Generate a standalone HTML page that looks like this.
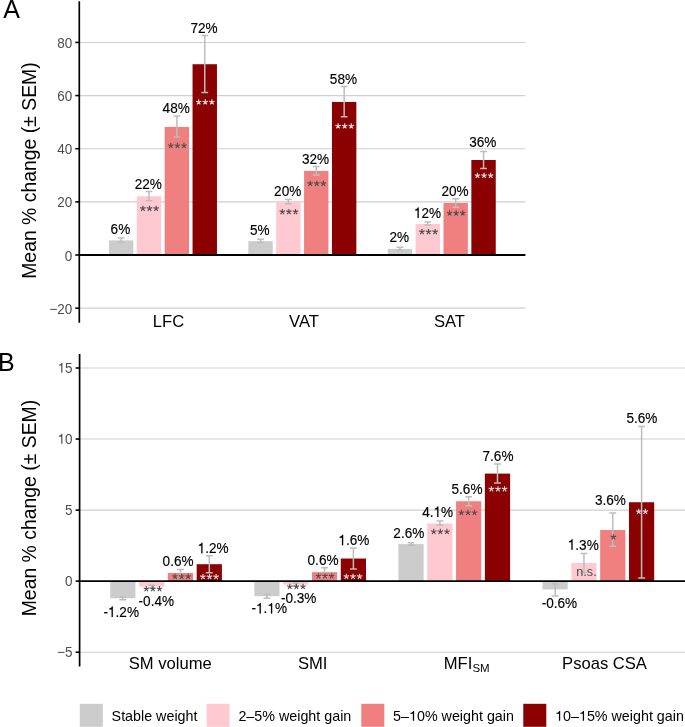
<!DOCTYPE html>
<html><head><meta charset="utf-8"><style>
html,body{margin:0;padding:0;background:#fff;width:685px;height:727px;overflow:hidden}
svg{display:block;will-change:transform}
text{font-family:"Liberation Sans", sans-serif}
.v{font-size:13.6px;fill:#000;stroke:#000;stroke-width:0.15;text-anchor:middle}
.st{font-size:14px;text-anchor:middle}
.tk{font-size:13.5px;fill:#4d4d4d;text-anchor:end}
.xl{font-size:16.6px;fill:#000}
.yt{font-size:19.4px;fill:#000}
.pl{font-size:25px;fill:#000}
.lg{font-size:14.3px;fill:#000}
.one{fill-opacity:0;stroke-opacity:0}
</style></head><body>
<svg width="685" height="727" viewBox="0 0 685 727">
<line x1="79.3" x2="525.4" y1="42.44" y2="42.44" stroke="#cfcfcf" stroke-width="1.1"/>
<line x1="79.3" x2="525.4" y1="95.58" y2="95.58" stroke="#cfcfcf" stroke-width="1.1"/>
<line x1="79.3" x2="525.4" y1="148.72" y2="148.72" stroke="#cfcfcf" stroke-width="1.1"/>
<line x1="79.3" x2="525.4" y1="201.86" y2="201.86" stroke="#cfcfcf" stroke-width="1.1"/>
<line x1="79.3" x2="525.4" y1="308.14" y2="308.14" stroke="#cfcfcf" stroke-width="1.1"/>
<rect x="108.92" y="240.39" width="24.39" height="14.61" fill="#cccccc"/>
<rect x="136.8" y="196.28" width="24.39" height="58.72" fill="#ffc9d1"/>
<rect x="164.68" y="126.93" width="24.39" height="128.07" fill="#f08080"/>
<rect x="192.56" y="64.23" width="24.39" height="190.77" fill="#8b0000"/>
<rect x="248.32" y="241.18" width="24.39" height="13.82" fill="#cccccc"/>
<rect x="276.2" y="201.33" width="24.39" height="53.67" fill="#ffc9d1"/>
<rect x="304.08" y="170.91" width="24.39" height="84.09" fill="#f08080"/>
<rect x="331.96" y="101.96" width="24.39" height="153.04" fill="#8b0000"/>
<rect x="387.72" y="248.89" width="24.39" height="6.11" fill="#cccccc"/>
<rect x="415.6" y="223.91" width="24.39" height="31.09" fill="#ffc9d1"/>
<rect x="443.48" y="202.92" width="24.39" height="52.08" fill="#f08080"/>
<rect x="471.36" y="160.01" width="24.39" height="94.99" fill="#8b0000"/>
<line x1="79.3" x2="525.4" y1="255" y2="255" stroke="#000" stroke-width="1.8"/>
<path d="M121.12 238V241.98M117.72 238H124.52M117.72 241.98H124.52" stroke="#bdbdbd" stroke-width="1.5" fill="none"/>
<path d="M149 191.5V200.8M145.6 191.5H152.4M145.6 200.8H152.4" stroke="#bdbdbd" stroke-width="1.5" fill="none"/>
<path d="M176.88 115.91V137.03M173.48 115.91H180.28M173.48 137.03H180.28" stroke="#bdbdbd" stroke-width="1.5" fill="none"/>
<path d="M204.76 35.53V92.39M201.36 35.53H208.16M201.36 92.39H208.16" stroke="#bdbdbd" stroke-width="1.5" fill="none"/>
<path d="M260.52 239.32V242.51M257.12 239.32H263.92M257.12 242.51H263.92" stroke="#bdbdbd" stroke-width="1.5" fill="none"/>
<path d="M288.4 199.47V203.72M285 199.47H291.8M285 203.72H291.8" stroke="#bdbdbd" stroke-width="1.5" fill="none"/>
<path d="M316.28 166.52V175.1M312.88 166.52H319.68M312.88 175.1H319.68" stroke="#bdbdbd" stroke-width="1.5" fill="none"/>
<path d="M344.16 86.55V116.84M340.76 86.55H347.56M340.76 116.84H347.56" stroke="#bdbdbd" stroke-width="1.5" fill="none"/>
<path d="M399.92 247.29V250.22M396.52 247.29H403.32M396.52 250.22H403.32" stroke="#bdbdbd" stroke-width="1.5" fill="none"/>
<path d="M427.8 221.92V225.11M424.4 221.92H431.2M424.4 225.11H431.2" stroke="#bdbdbd" stroke-width="1.5" fill="none"/>
<path d="M455.68 198.8V207.31M452.28 198.8H459.08M452.28 207.31H459.08" stroke="#bdbdbd" stroke-width="1.5" fill="none"/>
<path d="M483.56 151.51V168.38M480.16 151.51H486.96M480.16 168.38H486.96" stroke="#bdbdbd" stroke-width="1.5" fill="none"/>
<text transform="translate(120.42,233.6) scale(1,1.12)" class="v">6%</text>
<text transform="translate(148.3,188.5) scale(1,1.12)" class="v">22%</text>
<path d="M142.90 208.50L142.90 205.65M142.90 208.50L145.61 207.62M142.90 208.50L144.58 210.81M142.90 208.50L141.22 210.81M142.90 208.50L140.19 207.62" stroke="#505050" stroke-width="1.15" fill="none"/>
<path d="M149.50 208.50L149.50 205.65M149.50 208.50L152.21 207.62M149.50 208.50L151.18 210.81M149.50 208.50L147.82 210.81M149.50 208.50L146.79 207.62" stroke="#505050" stroke-width="1.15" fill="none"/>
<path d="M156.10 208.50L156.10 205.65M156.10 208.50L158.81 207.62M156.10 208.50L157.78 210.81M156.10 208.50L154.42 210.81M156.10 208.50L153.39 207.62" stroke="#505050" stroke-width="1.15" fill="none"/>
<text transform="translate(176.18,113.2) scale(1,1.12)" class="v">48%</text>
<path d="M170.78 145.70L170.78 142.85M170.78 145.70L173.49 144.82M170.78 145.70L172.46 148.01M170.78 145.70L169.10 148.01M170.78 145.70L168.07 144.82" stroke="#505050" stroke-width="1.15" fill="none"/>
<path d="M177.38 145.70L177.38 142.85M177.38 145.70L180.09 144.82M177.38 145.70L179.06 148.01M177.38 145.70L175.70 148.01M177.38 145.70L174.67 144.82" stroke="#505050" stroke-width="1.15" fill="none"/>
<path d="M183.98 145.70L183.98 142.85M183.98 145.70L186.69 144.82M183.98 145.70L185.66 148.01M183.98 145.70L182.30 148.01M183.98 145.70L181.27 144.82" stroke="#505050" stroke-width="1.15" fill="none"/>
<text transform="translate(204.06,32.8) scale(1,1.12)" class="v">72%</text>
<path d="M198.66 102.10L198.66 99.25M198.66 102.10L201.37 101.22M198.66 102.10L200.34 104.41M198.66 102.10L196.98 104.41M198.66 102.10L195.95 101.22" stroke="#dadada" stroke-width="1.15" fill="none"/>
<path d="M205.26 102.10L205.26 99.25M205.26 102.10L207.97 101.22M205.26 102.10L206.94 104.41M205.26 102.10L203.58 104.41M205.26 102.10L202.55 101.22" stroke="#dadada" stroke-width="1.15" fill="none"/>
<path d="M211.86 102.10L211.86 99.25M211.86 102.10L214.57 101.22M211.86 102.10L213.54 104.41M211.86 102.10L210.18 104.41M211.86 102.10L209.15 101.22" stroke="#dadada" stroke-width="1.15" fill="none"/>
<text transform="translate(259.82,235) scale(1,1.12)" class="v">5%</text>
<text transform="translate(287.7,196) scale(1,1.12)" class="v">20%</text>
<path d="M282.30 211.80L282.30 208.95M282.30 211.80L285.01 210.92M282.30 211.80L283.98 214.11M282.30 211.80L280.62 214.11M282.30 211.80L279.59 210.92" stroke="#505050" stroke-width="1.15" fill="none"/>
<path d="M288.90 211.80L288.90 208.95M288.90 211.80L291.61 210.92M288.90 211.80L290.58 214.11M288.90 211.80L287.22 214.11M288.90 211.80L286.19 210.92" stroke="#505050" stroke-width="1.15" fill="none"/>
<path d="M295.50 211.80L295.50 208.95M295.50 211.80L298.21 210.92M295.50 211.80L297.18 214.11M295.50 211.80L293.82 214.11M295.50 211.80L292.79 210.92" stroke="#505050" stroke-width="1.15" fill="none"/>
<text transform="translate(315.58,163.7) scale(1,1.12)" class="v">32%</text>
<path d="M310.18 183.50L310.18 180.65M310.18 183.50L312.89 182.62M310.18 183.50L311.86 185.81M310.18 183.50L308.50 185.81M310.18 183.50L307.47 182.62" stroke="#505050" stroke-width="1.15" fill="none"/>
<path d="M316.78 183.50L316.78 180.65M316.78 183.50L319.49 182.62M316.78 183.50L318.46 185.81M316.78 183.50L315.10 185.81M316.78 183.50L314.07 182.62" stroke="#505050" stroke-width="1.15" fill="none"/>
<path d="M323.38 183.50L323.38 180.65M323.38 183.50L326.09 182.62M323.38 183.50L325.06 185.81M323.38 183.50L321.70 185.81M323.38 183.50L320.67 182.62" stroke="#505050" stroke-width="1.15" fill="none"/>
<text transform="translate(343.46,84) scale(1,1.12)" class="v">58%</text>
<path d="M338.06 126.10L338.06 123.25M338.06 126.10L340.77 125.22M338.06 126.10L339.74 128.41M338.06 126.10L336.38 128.41M338.06 126.10L335.35 125.22" stroke="#dadada" stroke-width="1.15" fill="none"/>
<path d="M344.66 126.10L344.66 123.25M344.66 126.10L347.37 125.22M344.66 126.10L346.34 128.41M344.66 126.10L342.98 128.41M344.66 126.10L341.95 125.22" stroke="#dadada" stroke-width="1.15" fill="none"/>
<path d="M351.26 126.10L351.26 123.25M351.26 126.10L353.97 125.22M351.26 126.10L352.94 128.41M351.26 126.10L349.58 128.41M351.26 126.10L348.55 125.22" stroke="#dadada" stroke-width="1.15" fill="none"/>
<text transform="translate(399.22,241.8) scale(1,1.12)" class="v">2%</text>
<text transform="translate(427.5,218) scale(1,1.12)" class="v"><tspan class="one">1</tspan>2%</text>
<path d="M421.95 231.80L421.95 228.95M421.95 231.80L424.66 230.92M421.95 231.80L423.63 234.11M421.95 231.80L420.27 234.11M421.95 231.80L419.24 230.92" stroke="#505050" stroke-width="1.15" fill="none"/>
<path d="M428.55 231.80L428.55 228.95M428.55 231.80L431.26 230.92M428.55 231.80L430.23 234.11M428.55 231.80L426.87 234.11M428.55 231.80L425.84 230.92" stroke="#505050" stroke-width="1.15" fill="none"/>
<path d="M435.15 231.80L435.15 228.95M435.15 231.80L437.86 230.92M435.15 231.80L436.83 234.11M435.15 231.80L433.47 234.11M435.15 231.80L432.44 230.92" stroke="#505050" stroke-width="1.15" fill="none"/>
<text transform="translate(454.98,195.8) scale(1,1.12)" class="v">20%</text>
<path d="M449.58 213.20L449.58 210.35M449.58 213.20L452.29 212.32M449.58 213.20L451.26 215.51M449.58 213.20L447.90 215.51M449.58 213.20L446.87 212.32" stroke="#505050" stroke-width="1.15" fill="none"/>
<path d="M456.18 213.20L456.18 210.35M456.18 213.20L458.89 212.32M456.18 213.20L457.86 215.51M456.18 213.20L454.50 215.51M456.18 213.20L453.47 212.32" stroke="#505050" stroke-width="1.15" fill="none"/>
<path d="M462.78 213.20L462.78 210.35M462.78 213.20L465.49 212.32M462.78 213.20L464.46 215.51M462.78 213.20L461.10 215.51M462.78 213.20L460.07 212.32" stroke="#505050" stroke-width="1.15" fill="none"/>
<text transform="translate(482.86,147) scale(1,1.12)" class="v">36%</text>
<path d="M477.46 175.60L477.46 172.75M477.46 175.60L480.17 174.72M477.46 175.60L479.14 177.91M477.46 175.60L475.78 177.91M477.46 175.60L474.75 174.72" stroke="#dadada" stroke-width="1.15" fill="none"/>
<path d="M484.06 175.60L484.06 172.75M484.06 175.60L486.77 174.72M484.06 175.60L485.74 177.91M484.06 175.60L482.38 177.91M484.06 175.60L481.35 174.72" stroke="#dadada" stroke-width="1.15" fill="none"/>
<path d="M490.66 175.60L490.66 172.75M490.66 175.60L493.37 174.72M490.66 175.60L492.34 177.91M490.66 175.60L488.98 177.91M490.66 175.60L487.95 174.72" stroke="#dadada" stroke-width="1.15" fill="none"/>
<line x1="79.3" x2="79.3" y1="1.3" y2="322.8" stroke="#000" stroke-width="1.7"/>
<line x1="75.3" x2="79.3" y1="42.44" y2="42.44" stroke="#000" stroke-width="1.6"/>
<text transform="translate(72.3,47.94) scale(1,1.08)" class="tk">80</text>
<line x1="75.3" x2="79.3" y1="95.58" y2="95.58" stroke="#000" stroke-width="1.6"/>
<text transform="translate(72.3,101.08) scale(1,1.08)" class="tk">60</text>
<line x1="75.3" x2="79.3" y1="148.72" y2="148.72" stroke="#000" stroke-width="1.6"/>
<text transform="translate(72.3,154.22) scale(1,1.08)" class="tk">40</text>
<line x1="75.3" x2="79.3" y1="201.86" y2="201.86" stroke="#000" stroke-width="1.6"/>
<text transform="translate(72.3,207.36) scale(1,1.08)" class="tk">20</text>
<line x1="75.3" x2="79.3" y1="255" y2="255" stroke="#000" stroke-width="1.6"/>
<text transform="translate(72.3,260.5) scale(1,1.08)" class="tk">0</text>
<line x1="75.3" x2="79.3" y1="308.14" y2="308.14" stroke="#000" stroke-width="1.6"/>
<text transform="translate(72.3,313.64) scale(1,1.08)" class="tk">−20</text>
<text x="168.5" y="326.7" class="xl" text-anchor="middle">LFC</text>
<text x="304" y="326.7" class="xl" text-anchor="middle">VAT</text>
<text x="449.4" y="326.7" class="xl" text-anchor="middle">SAT</text>
<line x1="79.6" x2="685" y1="368" y2="368" stroke="#cfcfcf" stroke-width="1.1"/>
<line x1="79.6" x2="685" y1="439.05" y2="439.05" stroke="#cfcfcf" stroke-width="1.1"/>
<line x1="79.6" x2="685" y1="510.1" y2="510.1" stroke="#cfcfcf" stroke-width="1.1"/>
<line x1="79.6" x2="685" y1="652.2" y2="652.2" stroke="#cfcfcf" stroke-width="1.1"/>
<rect x="110.22" y="581.15" width="25.22" height="17.09" fill="#cccccc"/>
<rect x="139.04" y="581.15" width="25.22" height="5.46" fill="#ffc9d1"/>
<rect x="167.86" y="573" width="25.22" height="8.15" fill="#f08080"/>
<rect x="196.68" y="564.21" width="25.22" height="16.94" fill="#8b0000"/>
<rect x="254.32" y="581.15" width="25.22" height="15.11" fill="#cccccc"/>
<rect x="283.14" y="581.15" width="25.22" height="3.55" fill="#ffc9d1"/>
<rect x="311.96" y="572.15" width="25.22" height="9" fill="#f08080"/>
<rect x="340.78" y="558.54" width="25.22" height="22.61" fill="#8b0000"/>
<rect x="398.42" y="544.07" width="25.22" height="37.08" fill="#cccccc"/>
<rect x="427.24" y="523.51" width="25.22" height="57.64" fill="#ffc9d1"/>
<rect x="456.06" y="501.25" width="25.22" height="79.9" fill="#f08080"/>
<rect x="484.88" y="473.6" width="25.22" height="107.55" fill="#8b0000"/>
<rect x="542.52" y="581.15" width="25.22" height="8.3" fill="#cccccc"/>
<rect x="571.34" y="562.93" width="25.22" height="18.22" fill="#ffc9d1"/>
<rect x="600.16" y="530.04" width="25.22" height="51.11" fill="#f08080"/>
<rect x="628.98" y="502.24" width="25.22" height="78.91" fill="#8b0000"/>
<line x1="79.6" x2="685" y1="581.15" y2="581.15" stroke="#000" stroke-width="1.8"/>
<path d="M122.83 596.97V599.66M119.43 596.97H126.23M119.43 599.66H126.23" stroke="#bdbdbd" stroke-width="1.5" fill="none"/>
<path d="M151.65 585.2V588.03M148.25 585.2H155.05M148.25 588.03H155.05" stroke="#bdbdbd" stroke-width="1.5" fill="none"/>
<path d="M180.47 569.6V576.4M177.07 569.6H183.87M177.07 576.4H183.87" stroke="#bdbdbd" stroke-width="1.5" fill="none"/>
<path d="M209.29 555.84V572.86M205.89 555.84H212.69M205.89 572.86H212.69" stroke="#bdbdbd" stroke-width="1.5" fill="none"/>
<path d="M266.93 594.55V598.24M263.53 594.55H270.33M263.53 598.24H270.33" stroke="#bdbdbd" stroke-width="1.5" fill="none"/>
<path d="M295.75 583.21V586.19M292.35 583.21H299.15M292.35 586.19H299.15" stroke="#bdbdbd" stroke-width="1.5" fill="none"/>
<path d="M324.57 567.75V576.55M321.17 567.75H327.97M321.17 576.55H327.97" stroke="#bdbdbd" stroke-width="1.5" fill="none"/>
<path d="M353.39 547.9V569.03M349.99 547.9H356.79M349.99 569.03H356.79" stroke="#bdbdbd" stroke-width="1.5" fill="none"/>
<path d="M411.03 542.8V545.35M407.63 542.8H414.43M407.63 545.35H414.43" stroke="#bdbdbd" stroke-width="1.5" fill="none"/>
<path d="M439.85 520.96V525.21M436.45 520.96H443.25M436.45 525.21H443.25" stroke="#bdbdbd" stroke-width="1.5" fill="none"/>
<path d="M468.67 496.85V505.65M465.27 496.85H472.07M465.27 505.65H472.07" stroke="#bdbdbd" stroke-width="1.5" fill="none"/>
<path d="M497.49 464.1V483.1M494.09 464.1H500.89M494.09 483.1H500.89" stroke="#bdbdbd" stroke-width="1.5" fill="none"/>
<path d="M555.13 583.92V595.97M551.73 583.92H558.53M551.73 595.97H558.53" stroke="#bdbdbd" stroke-width="1.5" fill="none"/>
<path d="M583.95 553.43V572.58M580.55 553.43H587.35M580.55 572.58H587.35" stroke="#bdbdbd" stroke-width="1.5" fill="none"/>
<path d="M612.77 513.02V546.34M609.37 513.02H616.17M609.37 546.34H616.17" stroke="#bdbdbd" stroke-width="1.5" fill="none"/>
<path d="M641.59 426.52V578.11M638.19 426.52H644.99M638.19 578.11H644.99" stroke="#bdbdbd" stroke-width="1.5" fill="none"/>
<text transform="translate(121.2,617.1) scale(1,1.12)" class="v">-<tspan class="one">1</tspan>.2%</text>
<text transform="translate(156.3,606) scale(1,1.12)" class="v">-0.4%</text>
<path d="M146.30 588.95L146.30 586.10M146.30 588.95L149.01 588.07M146.30 588.95L147.98 591.26M146.30 588.95L144.62 591.26M146.30 588.95L143.59 588.07" stroke="#505050" stroke-width="1.15" fill="none"/>
<path d="M152.90 588.95L152.90 586.10M152.90 588.95L155.61 588.07M152.90 588.95L154.58 591.26M152.90 588.95L151.22 591.26M152.90 588.95L150.19 588.07" stroke="#505050" stroke-width="1.15" fill="none"/>
<path d="M159.50 588.95L159.50 586.10M159.50 588.95L162.21 588.07M159.50 588.95L161.18 591.26M159.50 588.95L157.82 591.26M159.50 588.95L156.79 588.07" stroke="#505050" stroke-width="1.15" fill="none"/>
<text transform="translate(178.1,565.5) scale(1,1.12)" class="v">0.6%</text>
<path d="M175.00 576.50L175.00 573.65M175.00 576.50L177.71 575.62M175.00 576.50L176.68 578.81M175.00 576.50L173.32 578.81M175.00 576.50L172.29 575.62" stroke="#505050" stroke-width="1.15" fill="none"/>
<path d="M181.60 576.50L181.60 573.65M181.60 576.50L184.31 575.62M181.60 576.50L183.28 578.81M181.60 576.50L179.92 578.81M181.60 576.50L178.89 575.62" stroke="#505050" stroke-width="1.15" fill="none"/>
<path d="M188.20 576.50L188.20 573.65M188.20 576.50L190.91 575.62M188.20 576.50L189.88 578.81M188.20 576.50L186.52 578.81M188.20 576.50L185.49 575.62" stroke="#505050" stroke-width="1.15" fill="none"/>
<text transform="translate(213.1,553.3) scale(1,1.12)" class="v"><tspan class="one">1</tspan>.2%</text>
<path d="M202.90 576.80L202.90 573.95M202.90 576.80L205.61 575.92M202.90 576.80L204.58 579.11M202.90 576.80L201.22 579.11M202.90 576.80L200.19 575.92" stroke="#dadada" stroke-width="1.15" fill="none"/>
<path d="M209.50 576.80L209.50 573.95M209.50 576.80L212.21 575.92M209.50 576.80L211.18 579.11M209.50 576.80L207.82 579.11M209.50 576.80L206.79 575.92" stroke="#dadada" stroke-width="1.15" fill="none"/>
<path d="M216.10 576.80L216.10 573.95M216.10 576.80L218.81 575.92M216.10 576.80L217.78 579.11M216.10 576.80L214.42 579.11M216.10 576.80L213.39 575.92" stroke="#dadada" stroke-width="1.15" fill="none"/>
<text transform="translate(269.2,613.4) scale(1,1.12)" class="v">-<tspan class="one">1</tspan>.<tspan class="one">1</tspan>%</text>
<text transform="translate(298.65,603.2) scale(1,1.12)" class="v">-0.3%</text>
<path d="M289.80 586.70L289.80 583.85M289.80 586.70L292.51 585.82M289.80 586.70L291.48 589.01M289.80 586.70L288.12 589.01M289.80 586.70L287.09 585.82" stroke="#505050" stroke-width="1.15" fill="none"/>
<path d="M296.40 586.70L296.40 583.85M296.40 586.70L299.11 585.82M296.40 586.70L298.08 589.01M296.40 586.70L294.72 589.01M296.40 586.70L293.69 585.82" stroke="#505050" stroke-width="1.15" fill="none"/>
<path d="M303.00 586.70L303.00 583.85M303.00 586.70L305.71 585.82M303.00 586.70L304.68 589.01M303.00 586.70L301.32 589.01M303.00 586.70L300.29 585.82" stroke="#505050" stroke-width="1.15" fill="none"/>
<text transform="translate(323.05,565) scale(1,1.12)" class="v">0.6%</text>
<path d="M318.40 576.00L318.40 573.15M318.40 576.00L321.11 575.12M318.40 576.00L320.08 578.31M318.40 576.00L316.72 578.31M318.40 576.00L315.69 575.12" stroke="#505050" stroke-width="1.15" fill="none"/>
<path d="M325.00 576.00L325.00 573.15M325.00 576.00L327.71 575.12M325.00 576.00L326.68 578.31M325.00 576.00L323.32 578.31M325.00 576.00L322.29 575.12" stroke="#505050" stroke-width="1.15" fill="none"/>
<path d="M331.60 576.00L331.60 573.15M331.60 576.00L334.31 575.12M331.60 576.00L333.28 578.31M331.60 576.00L329.92 578.31M331.60 576.00L328.89 575.12" stroke="#505050" stroke-width="1.15" fill="none"/>
<text transform="translate(353.8,545.3) scale(1,1.12)" class="v"><tspan class="one">1</tspan>.6%</text>
<path d="M346.40 576.50L346.40 573.65M346.40 576.50L349.11 575.62M346.40 576.50L348.08 578.81M346.40 576.50L344.72 578.81M346.40 576.50L343.69 575.62" stroke="#dadada" stroke-width="1.15" fill="none"/>
<path d="M353.00 576.50L353.00 573.65M353.00 576.50L355.71 575.62M353.00 576.50L354.68 578.81M353.00 576.50L351.32 578.81M353.00 576.50L350.29 575.62" stroke="#dadada" stroke-width="1.15" fill="none"/>
<path d="M359.60 576.50L359.60 573.65M359.60 576.50L362.31 575.62M359.60 576.50L361.28 578.81M359.60 576.50L357.92 578.81M359.60 576.50L356.89 575.62" stroke="#dadada" stroke-width="1.15" fill="none"/>
<text transform="translate(408.85,538.1) scale(1,1.12)" class="v">2.6%</text>
<text transform="translate(437.7,517) scale(1,1.12)" class="v">4.<tspan class="one">1</tspan>%</text>
<path d="M433.75 531.70L433.75 528.85M433.75 531.70L436.46 530.82M433.75 531.70L435.43 534.01M433.75 531.70L432.07 534.01M433.75 531.70L431.04 530.82" stroke="#505050" stroke-width="1.15" fill="none"/>
<path d="M440.35 531.70L440.35 528.85M440.35 531.70L443.06 530.82M440.35 531.70L442.03 534.01M440.35 531.70L438.67 534.01M440.35 531.70L437.64 530.82" stroke="#505050" stroke-width="1.15" fill="none"/>
<path d="M446.95 531.70L446.95 528.85M446.95 531.70L449.66 530.82M446.95 531.70L448.63 534.01M446.95 531.70L445.27 534.01M446.95 531.70L444.24 530.82" stroke="#505050" stroke-width="1.15" fill="none"/>
<text transform="translate(467,494) scale(1,1.12)" class="v">5.6%</text>
<path d="M461.35 512.70L461.35 509.85M461.35 512.70L464.06 511.82M461.35 512.70L463.03 515.01M461.35 512.70L459.67 515.01M461.35 512.70L458.64 511.82" stroke="#505050" stroke-width="1.15" fill="none"/>
<path d="M467.95 512.70L467.95 509.85M467.95 512.70L470.66 511.82M467.95 512.70L469.63 515.01M467.95 512.70L466.27 515.01M467.95 512.70L465.24 511.82" stroke="#505050" stroke-width="1.15" fill="none"/>
<path d="M474.55 512.70L474.55 509.85M474.55 512.70L477.26 511.82M474.55 512.70L476.23 515.01M474.55 512.70L472.87 515.01M474.55 512.70L471.84 511.82" stroke="#505050" stroke-width="1.15" fill="none"/>
<text transform="translate(498,460.7) scale(1,1.12)" class="v">7.6%</text>
<path d="M491.39 489.00L491.39 486.15M491.39 489.00L494.10 488.12M491.39 489.00L493.07 491.31M491.39 489.00L489.71 491.31M491.39 489.00L488.68 488.12" stroke="#dadada" stroke-width="1.15" fill="none"/>
<path d="M497.99 489.00L497.99 486.15M497.99 489.00L500.70 488.12M497.99 489.00L499.67 491.31M497.99 489.00L496.31 491.31M497.99 489.00L495.28 488.12" stroke="#dadada" stroke-width="1.15" fill="none"/>
<path d="M504.59 489.00L504.59 486.15M504.59 489.00L507.30 488.12M504.59 489.00L506.27 491.31M504.59 489.00L502.91 491.31M504.59 489.00L501.88 488.12" stroke="#dadada" stroke-width="1.15" fill="none"/>
<text transform="translate(559.4,608.2) scale(1,1.12)" class="v">-0.6%</text>
<text transform="translate(583.25,549.8) scale(1,1.12)" class="v"><tspan class="one">1</tspan>.3%</text>
<text x="586.5" y="576" class="st" fill="#505050" style="font-size:12.7px">n.s.</text>
<text transform="translate(610.4,504.8) scale(1,1.12)" class="v">3.6%</text>
<path d="M613.40 537.00L613.40 534.15M613.40 537.00L616.11 536.12M613.40 537.00L615.08 539.31M613.40 537.00L611.72 539.31M613.40 537.00L610.69 536.12" stroke="#505050" stroke-width="1.15" fill="none"/>
<text transform="translate(641.95,422.5) scale(1,1.12)" class="v">5.6%</text>
<path d="M638.79 511.60L638.79 508.75M638.79 511.60L641.50 510.72M638.79 511.60L640.47 513.91M638.79 511.60L637.11 513.91M638.79 511.60L636.08 510.72" stroke="#dadada" stroke-width="1.15" fill="none"/>
<path d="M645.39 511.60L645.39 508.75M645.39 511.60L648.10 510.72M645.39 511.60L647.07 513.91M645.39 511.60L643.71 513.91M645.39 511.60L642.68 510.72" stroke="#dadada" stroke-width="1.15" fill="none"/>
<line x1="79.6" x2="79.6" y1="353.9" y2="666.6" stroke="#000" stroke-width="1.7"/>
<line x1="75.6" x2="79.6" y1="368" y2="368" stroke="#000" stroke-width="1.6"/>
<text transform="translate(72.6,372.8) scale(1,1.08)" class="tk"><tspan class="one">1</tspan>5</text>
<line x1="75.6" x2="79.6" y1="439.05" y2="439.05" stroke="#000" stroke-width="1.6"/>
<text transform="translate(72.6,443.85) scale(1,1.08)" class="tk"><tspan class="one">1</tspan>0</text>
<line x1="75.6" x2="79.6" y1="510.1" y2="510.1" stroke="#000" stroke-width="1.6"/>
<text transform="translate(72.6,514.9) scale(1,1.08)" class="tk">5</text>
<line x1="75.6" x2="79.6" y1="581.15" y2="581.15" stroke="#000" stroke-width="1.6"/>
<text transform="translate(72.6,585.95) scale(1,1.08)" class="tk">0</text>
<line x1="75.6" x2="79.6" y1="652.2" y2="652.2" stroke="#000" stroke-width="1.6"/>
<text transform="translate(72.6,657) scale(1,1.08)" class="tk">−5</text>
<text x="170.2" y="668.9" class="xl" text-anchor="middle">SM volume</text>
<text x="312.7" y="668.9" class="xl" text-anchor="middle">SMI</text>
<text x="443.8" y="668.9" class="xl">MFI<tspan font-size="11.5" dy="3">SM</tspan></text>
<text x="604.5" y="668.9" class="xl" text-anchor="middle">Psoas CSA</text>
<text transform="translate(36.2,170.55) rotate(-90)" class="yt" text-anchor="middle">Mean % change (± SEM)</text>
<text transform="translate(36.2,508.05) rotate(-90)" class="yt" text-anchor="middle">Mean % change (± SEM)</text>
<text x="3.35" y="17.8" class="pl">A</text>
<text x="-1.9" y="371.0" class="pl">B</text>
<rect x="79.8" y="703.8" width="23" height="23" fill="#cccccc"/>
<text x="111.6" y="720.8" class="lg">Stable weight</text>
<rect x="206.6" y="703.8" width="23" height="23" fill="#ffc9d1"/>
<text x="238.4" y="720.8" class="lg">2–5% weight gain</text>
<rect x="361.3" y="703.8" width="23" height="23" fill="#f08080"/>
<text x="393.1" y="720.8" class="lg">5–<tspan class="one">1</tspan>0% weight gain</text>
<rect x="523.3" y="703.8" width="23" height="23" fill="#8b0000"/>
<text x="555.1" y="720.8" class="lg"><tspan class="one">1</tspan>0–<tspan class="one">1</tspan>5% weight gain</text>
<path transform="translate(427.5,218) scale(1,1.12)" d="M-9.96 0.00L-8.75 0.00L-8.75 -9.36L-9.66 -9.36C-9.93 -8.40 -10.89 -7.68 -12.31 -7.59L-12.31 -6.73L-9.96 -6.73Z" fill="rgb(0, 0, 0)" stroke="#000" stroke-width="0.15"/>
<path transform="translate(121.2,617.1) scale(1,1.12)" d="M-9.58 0.00L-8.37 0.00L-8.37 -9.36L-9.28 -9.36C-9.55 -8.40 -10.50 -7.68 -11.93 -7.59L-11.93 -6.73L-9.58 -6.73Z" fill="rgb(0, 0, 0)" stroke="#000" stroke-width="0.15"/>
<path transform="translate(213.1,553.3) scale(1,1.12)" d="M-11.84 0.00L-10.63 0.00L-10.63 -9.36L-11.55 -9.36C-11.82 -8.40 -12.77 -7.68 -14.20 -7.59L-14.20 -6.73L-11.84 -6.73Z" fill="rgb(0, 0, 0)" stroke="#000" stroke-width="0.15"/>
<path transform="translate(269.2,613.4) scale(1,1.12)" d="M-9.59 0.00L-8.38 0.00L-8.38 -9.36L-9.29 -9.36C-9.56 -8.40 -10.51 -7.68 -11.94 -7.59L-11.94 -6.73L-9.59 -6.73Z" fill="rgb(0, 0, 0)" stroke="#000" stroke-width="0.15"/>
<path transform="translate(269.2,613.4) scale(1,1.12)" d="M1.76 0.00L2.97 0.00L2.97 -9.36L2.06 -9.36C1.79 -8.40 0.84 -7.68 -0.59 -7.59L-0.59 -6.73L1.76 -6.73Z" fill="rgb(0, 0, 0)" stroke="#000" stroke-width="0.15"/>
<path transform="translate(353.8,545.3) scale(1,1.12)" d="M-11.84 0.00L-10.63 0.00L-10.63 -9.36L-11.55 -9.36C-11.82 -8.40 -12.77 -7.68 -14.20 -7.59L-14.20 -6.73L-11.84 -6.73Z" fill="rgb(0, 0, 0)" stroke="#000" stroke-width="0.15"/>
<path transform="translate(437.7,517) scale(1,1.12)" d="M-0.51 0.00L0.70 0.00L0.70 -9.36L-0.21 -9.36C-0.49 -8.40 -1.44 -7.68 -2.87 -7.59L-2.87 -6.73L-0.51 -6.73Z" fill="rgb(0, 0, 0)" stroke="#000" stroke-width="0.15"/>
<path transform="translate(583.25,549.8) scale(1,1.12)" d="M-11.84 0.00L-10.63 0.00L-10.63 -9.36L-11.55 -9.36C-11.82 -8.40 -12.77 -7.68 -14.20 -7.59L-14.20 -6.73L-11.84 -6.73Z" fill="rgb(0, 0, 0)" stroke="#000" stroke-width="0.15"/>
<path transform="translate(72.6,372.8) scale(1,1.08)" d="M-11.39 0.00L-10.19 0.00L-10.19 -9.29L-11.10 -9.29C-11.37 -8.34 -12.31 -7.63 -13.73 -7.53L-13.73 -6.68L-11.39 -6.68Z" fill="rgb(77, 77, 77)"/>
<path transform="translate(72.6,443.85) scale(1,1.08)" d="M-11.39 0.00L-10.19 0.00L-10.19 -9.29L-11.10 -9.29C-11.37 -8.34 -12.31 -7.63 -13.73 -7.53L-13.73 -6.68L-11.39 -6.68Z" fill="rgb(77, 77, 77)"/>
<path d="M412.84 720.80L414.11 720.80L414.11 710.96L413.15 710.96C412.87 711.96 411.87 712.72 410.36 712.82L410.36 713.72L412.84 713.72Z" fill="rgb(0, 0, 0)"/>
<path d="M558.93 720.80L560.21 720.80L560.21 710.96L559.25 710.96C558.96 711.96 557.96 712.72 556.46 712.82L556.46 713.72L558.93 713.72Z" fill="rgb(0, 0, 0)"/>
<path d="M582.79 720.80L584.06 720.80L584.06 710.96L583.11 710.96C582.82 711.96 581.82 712.72 580.32 712.82L580.32 713.72L582.79 713.72Z" fill="rgb(0, 0, 0)"/>
</svg>
</body></html>
